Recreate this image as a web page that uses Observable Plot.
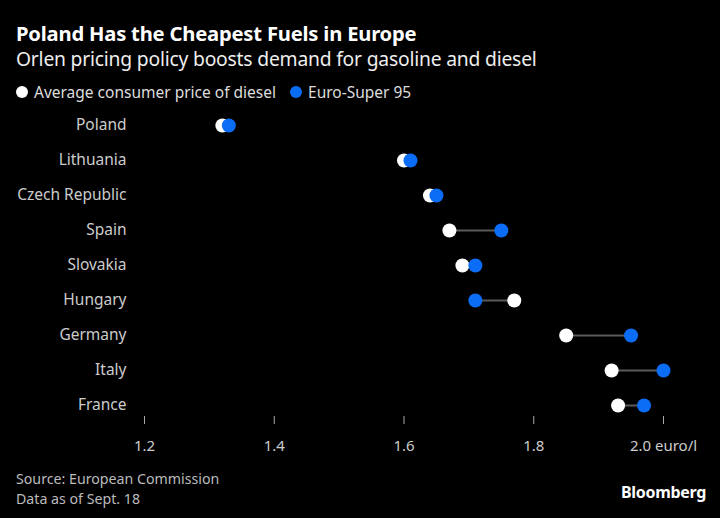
<!DOCTYPE html>
<html>
<head>
<meta charset="utf-8">
<script src="https://cdn.jsdelivr.net/npm/d3@7"></script>
<script src="https://cdn.jsdelivr.net/npm/@observablehq/plot@0.6"></script>
<style>
  html, body { margin: 0; padding: 0; background: #000; }
  body { width: 720px; height: 518px; overflow: hidden; font-family: "Noto Sans", sans-serif; color: #fff; position: relative; }
  #title { position: absolute; left: 16px; top: 21px; font-size: 20.2px; line-height: 24px; font-weight: 700; color: #fff; letter-spacing: -0.2px; }
  #subtitle { position: absolute; left: 16px; top: 48px; font-size: 19.3px; line-height: 22px; color: #eee; letter-spacing: -0.2px; }
  #legend { position: absolute; left: 16px; top: 82px; font-size: 15.5px; line-height: 20px; color: #ddd; display: flex; align-items: center; }
  .sw { display: inline-block; width: 12px; height: 12px; border-radius: 50%; margin-right: 6px; }
  .item { display: flex; align-items: center; margin-right: 14px; }
  #chart { position: absolute; left: 0; top: 106px; }
  .src { position: absolute; left: 16px; font-size: 14.2px; color: #bbb; line-height: 17px; }
  #brand { position: absolute; right: 14px; top: 482px; font-size: 16px; line-height: 20px; font-weight: 700; color: #fff; letter-spacing: -0.3px; }
</style>
</head>
<body>
<div id="title">Poland Has the Cheapest Fuels in Europe</div>
<div id="subtitle">Orlen pricing policy boosts demand for gasoline and diesel</div>
<div id="legend"></div>
<div id="chart"></div>
<div class="src" style="top:470px">Source: European Commission</div>
<div class="src" style="top:490px">Data as of Sept. 18</div>
<div id="brand">Bloomberg</div>
<script>
const countries = ["Poland", "Lithuania", "Czech Republic", "Spain", "Slovakia", "Hungary", "Germany", "Italy", "France"];
const diesel = [1.32, 1.60, 1.64, 1.67, 1.69, 1.77, 1.85, 1.92, 1.93];
const euroSuper95 = [1.33, 1.61, 1.65, 1.75, 1.71, 1.71, 1.95, 2.00, 1.97];
const seriesNames = ["Average consumer price of diesel", "Euro-Super 95"];
const seriesColors = ["#ffffff", "#0b6cf6"];
const xTicks = [1.2, 1.4, 1.6, 1.8, 2.0];
const unitLabel = "euro/l";

const rows = countries.map((c, i) => ({country: c, diesel: diesel[i], gas: euroSuper95[i]}));

// legend
const legend = document.getElementById("legend");
seriesNames.forEach((n, i) => {
  const it = document.createElement("span");
  it.className = "item";
  it.innerHTML = `<span class="sw" style="background:${seriesColors[i]}"></span>${n}`;
  legend.appendChild(it);
});

const lastTick = xTicks[xTicks.length - 1];
const fmt = d => d === lastTick ? `${d.toFixed(1)} ${unitLabel}` : d.toFixed(1);

const chart = Plot.plot({
  width: 720,
  height: 360,
  marginLeft: 144,
  marginRight: 57,
  marginTop: 18,
  marginBottom: 50,
  insetBottom: 11,
  style: {background: "#000", color: "#ccc", fontFamily: "Noto Sans, sans-serif", fontSize: "15px"},
  x: {domain: [xTicks[0], lastTick], label: null},
  y: {domain: countries, type: "point", padding: 0, label: null},
  marks: [
    Plot.axisY({tickSize: 0, tickPadding: 18, fill: "#ccc", fontSize: 15.5, label: null}),
    Plot.axisX({ticks: xTicks, tickFormat: fmt, tickSize: 8, tickPadding: 16, stroke: "#aaa", fill: "#ccc", fontSize: 15, label: null}),
    Plot.link(rows, {x1: "diesel", x2: "gas", y1: "country", y2: "country", stroke: "#5a5a5a", strokeWidth: 2}),
    Plot.dot(rows, {x: "diesel", y: "country", r: 7, fill: seriesColors[0]}),
    Plot.dot(rows, {x: "gas", y: "country", r: 7, fill: seriesColors[1]})
  ]
});
document.getElementById("chart").appendChild(chart);
</script>
</body>
</html>
